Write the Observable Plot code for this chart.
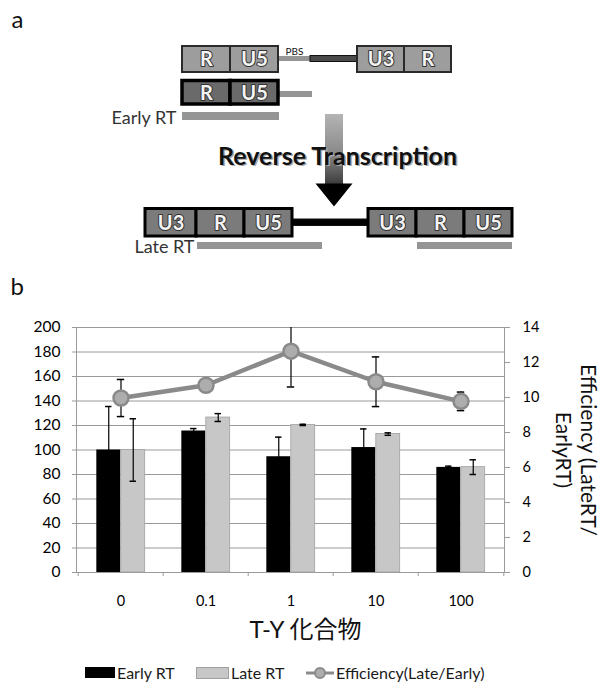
<!DOCTYPE html>
<html>
<head>
<meta charset="utf-8">
<script src="https://cdn.jsdelivr.net/npm/d3@7"></script>
<script src="https://cdn.jsdelivr.net/npm/@observablehq/plot@0.6"></script>
<style>
  html, body { margin: 0; padding: 0; background: #fff; }
  #root { position: relative; width: 604px; height: 683px; font-family: Lato, "Noto Sans CJK JP", sans-serif; overflow: hidden; }
  #panelA { position: absolute; left: 0; top: 0; }
  #panelB { position: absolute; left: 0; top: 270px; }
  .leg { position: absolute; font-size: 16px; line-height: 16px; color: #1a1a1a; white-space: nowrap; }
  .sw { position: absolute; }
</style>
</head>
<body>
<div id="root">
  <div id="panelA"></div>
  <div id="panelB"></div>
  <div id="legend"></div>
</div>
<script>
// ---------- chart data (panel b) ----------
const categories = ["0", "0.1", "1", "10", "100"];
const earlyRT    = [100, 115.5, 94.5, 102, 85.8];
const earlyErr   = [35.5, 2, 16, 15.2, 1];
const lateRT     = [100, 126.5, 120.5, 113, 86];
const lateErr    = [25.5, 3.2, 0.5, 1, 6];
const efficiency = [9.97, 10.7, 12.65, 10.9, 9.78];
const effErr     = [1.06, 0, 2.05, 1.42, 0.53];
const leftTicks  = [0, 20, 40, 60, 80, 100, 120, 140, 160, 180, 200];
const rightTicks = [0, 2, 4, 6, 8, 10, 12, 14];
const xTitle = ["T-Y 化合物"];
const rightTitle = ["Efficiency (LateRT/\nEarlyRT)"];
const panelBLabel = ["b"];
const legendLabels = ["Early RT", "Late RT", "Efficiency(Late/Early)"];

// ---------- schematic (panel a) ----------
const panelALabel = [{t: "a", x: 11, y: 20}];
const diagramBoxes = [
  {row: "top", x1: 182, x2: 230, label: "R"},
  {row: "top", x1: 230, x2: 278, label: "U5"},
  {row: "top", x1: 357, x2: 404, label: "U3"},
  {row: "top", x1: 404, x2: 451, label: "R"},
  {row: "mid", x1: 182, x2: 230, label: "R"},
  {row: "mid", x1: 230, x2: 278, label: "U5"},
  {row: "bot", x1: 145, x2: 196, label: "U3"},
  {row: "bot", x1: 196, x2: 244, label: "R"},
  {row: "bot", x1: 244, x2: 292, label: "U5"},
  {row: "bot", x1: 368, x2: 416, label: "U3"},
  {row: "bot", x1: 416, x2: 464, label: "R"},
  {row: "bot", x1: 464, x2: 512, label: "U5"}
];
const rowSpan = {top: [46, 72], mid: [80.5, 104], bot: [208.5, 236]};
const rowFill = {top: "#9d9d9d", mid: "#6a6a6a", bot: "#7b7b7b"};
const rowStroke = {top: "#2a2a2a", mid: "#000", bot: "#000"};
const rowStrokeW = {top: 2, mid: 3.5, bot: 3};
const grayStrands = [
  {x1: 278, x2: 310, y1: 56, y2: 61},
  {x1: 279, x2: 312, y1: 91, y2: 97},
  {x1: 182, x2: 279, y1: 112, y2: 120},
  {x1: 197, x2: 322, y1: 242, y2: 249},
  {x1: 417, x2: 512, y1: 242, y2: 249}
];
const darkStrands = [
  {x1: 310, x2: 357, y1: 55.5, y2: 61.5, fill: "#4a4a4a"},
  {x1: 292, x2: 368, y1: 219, y2: 225.5, fill: "#000"}
];
const arrowShaft = [{x1: 325, x2: 343, y1: 114, y2: 185}];
const arrowHead = [{x: 315, y: 183}, {x: 352, y: 183}, {x: 333.5, y: 206}];
const sideLabels = [
  {t: "Early RT", x: 176, y: 118},
  {t: "Late RT", x: 194, y: 247}
];
const pbsLabel = [{t: "PBS", x: 285, y: 51}];
const rtLabel = [{t: "Reverse Transcription", x: 337, y: 156}];

const FONT = 'Lato, "Noto Sans CJK JP", sans-serif';

const boxText = diagramBoxes.map(b => ({t: b.label, x: (b.x1 + b.x2) / 2, y: (rowSpan[b.row][0] + rowSpan[b.row][1]) / 2 + 0.5}));

const panelA = Plot.plot({
  width: 604, height: 265, margin: 0,
  x: {domain: [0, 604], range: [0, 604], axis: null},
  y: {domain: [0, 265], range: [0, 265], axis: null},
  style: {fontFamily: FONT, background: "transparent"},
  marks: [
    Plot.rect(grayStrands, {x1: "x1", x2: "x2", y1: "y1", y2: "y2", fill: "#959595"}),
    Plot.rect(darkStrands, {x1: "x1", x2: "x2", y1: "y1", y2: "y2", fill: d => d.fill, stroke: "#111", strokeWidth: 1}),
    Plot.rect(arrowShaft, {x1: "x1", x2: "x2", y1: "y1", y2: "y2", fill: "url(#shaftGrad)"}),
    Plot.line(arrowHead, {x: "x", y: "y", fill: "#000", stroke: "none"}),
    Plot.rect(diagramBoxes, {
      x1: "x1", x2: "x2",
      y1: d => rowSpan[d.row][0], y2: d => rowSpan[d.row][1],
      fill: d => rowFill[d.row], stroke: d => rowStroke[d.row], strokeWidth: d => rowStrokeW[d.row]
    }),
    Plot.text(boxText, {x: "x", y: "y", text: "t", fill: "#f4f4f4", stroke: "#333", strokeWidth: 2, fontWeight: "bold", fontSize: 20}),
    Plot.text(pbsLabel, {x: "x", y: "y", text: "t", textAnchor: "start", fontSize: 10, fill: "#111"}),
    Plot.text(sideLabels, {x: "x", y: "y", text: "t", textAnchor: "end", fontSize: 18, fill: "#333"}),
    Plot.text(rtLabel, {x: "x", y: "y", text: "t", dx: 1.5, dy: 1.5, fontSize: 25, fontWeight: "bold", fill: "#aaa"}),
    Plot.text(rtLabel, {x: "x", y: "y", text: "t", fontSize: 25, fontWeight: "bold", fill: "#111"}),
    Plot.text(panelALabel, {x: "x", y: "y", text: "t", textAnchor: "start", fontSize: 24, fill: "#111"})
  ]
});
{
  const defs = d3.select(panelA).insert("defs", ":first-child");
  const g = defs.append("linearGradient").attr("id", "shaftGrad").attr("x1", 0).attr("y1", 0).attr("x2", 0).attr("y2", 1);
  g.append("stop").attr("offset", "0%").attr("stop-color", "#b4b4b4");
  g.append("stop").attr("offset", "55%").attr("stop-color", "#8a8a8a");
  g.append("stop").attr("offset", "100%").attr("stop-color", "#3a3a3a");
}
document.getElementById("panelA").appendChild(panelA);

// ---------- panel b chart ----------
const k = 200 / 14; // right-axis (efficiency) to left-axis units
const rows = categories.map((c, i) => ({
  c, early: earlyRT[i], eErr: earlyErr[i], late: lateRT[i], lErr: lateErr[i],
  eff: efficiency[i] * k, effLo: (efficiency[i] - effErr[i]) * k, effHi: (efficiency[i] + effErr[i]) * k
}));
const W = 604, ML = 76, MR = 100;
const band = (W - ML - MR) / categories.length;
const barW = band * 0.286;
const capW = 7;
const capInset = (band - capW) / 2;

const chart = Plot.plot({
  width: W, height: 385, marginTop: 57, marginLeft: ML, marginRight: MR, marginBottom: 83,
  x: {domain: categories, padding: 0, axis: null},
  y: {domain: [0, 200], axis: null},
  style: {fontFamily: FONT, background: "transparent", color: "#000"},
  marks: [
    Plot.gridY(leftTicks, {stroke: "#9a9a9a", strokeOpacity: 1, insetLeft: -4}),
    Plot.frame({stroke: "#9a9a9a"}),
    Plot.ruleX(categories, {x: d => d, dx: -band / 2, y1: 0, y2: 0, insetBottom: -4, stroke: "#9a9a9a"}),
    Plot.ruleX(categories.slice(-1), {x: d => d, dx: band / 2, y1: 0, y2: 0, insetBottom: -4, stroke: "#9a9a9a"}),
    Plot.axisY({ticks: leftTicks, tickSize: 0, tickPadding: 16, fontSize: 15.5, label: null, fill: "#000"}),
    Plot.axisY({anchor: "right", ticks: rightTicks.map(v => v * k), tickFormat: d => Math.round(d / k), tickSize: 5, tickPadding: 13, fontSize: 14.5, label: null, stroke: "#9a9a9a", fill: "#000"}),
    Plot.axisX({tickSize: 0, tickPadding: 23, fontSize: 14.5, label: null, fill: "#000"}),
    // bars
    Plot.barY(rows, {x: "c", y: "early", fill: "#000", insetLeft: band / 2 - barW, insetRight: band / 2}),
    Plot.barY(rows, {x: "c", y: "late", fill: "#c7c7c7", stroke: "#a0a0a0", strokeWidth: 0.8, insetLeft: band / 2, insetRight: band / 2 - barW}),
    // bar error bars
    Plot.ruleX(rows, {x: "c", y1: d => d.early - d.eErr, y2: d => d.early + d.eErr, dx: -barW / 2, stroke: "#000", strokeWidth: 1.2}),
    Plot.tickY(rows, {x: "c", y: d => d.early + d.eErr, dx: -barW / 2, insetLeft: capInset, insetRight: capInset, stroke: "#000", strokeWidth: 1.5}),
    Plot.ruleX(rows, {x: "c", y1: d => d.late - d.lErr, y2: d => d.late + d.lErr, dx: barW / 2, stroke: "#000", strokeWidth: 1.2}),
    Plot.tickY(rows, {x: "c", y: d => d.late + d.lErr, dx: barW / 2, insetLeft: capInset, insetRight: capInset, stroke: "#000", strokeWidth: 1.5}),
    Plot.tickY(rows, {x: "c", y: d => d.late - d.lErr, dx: barW / 2, insetLeft: capInset, insetRight: capInset, stroke: "#000", strokeWidth: 1.5}),
    // efficiency error bars
    Plot.ruleX(rows, {x: "c", y1: "effLo", y2: "effHi", stroke: "#000", strokeWidth: 1.2, clip: true}),
    Plot.tickY(rows, {x: "c", y: "effHi", insetLeft: capInset - 0.5, insetRight: capInset - 0.5, stroke: "#000", strokeWidth: 1.5, clip: true}),
    Plot.tickY(rows, {x: "c", y: "effLo", insetLeft: capInset - 0.5, insetRight: capInset - 0.5, stroke: "#000", strokeWidth: 1.5, clip: true}),
    // efficiency line + markers
    Plot.line(rows, {x: "c", y: "eff", stroke: "#8a8a8a", strokeWidth: 4.5}),
    Plot.dot(rows, {x: "c", y: "eff", r: 7.5, fill: "#adadad", stroke: "#8a8a8a", strokeWidth: 2.5}),
    // titles
    Plot.text(panelBLabel, {frameAnchor: "top-left", text: d => d, textAnchor: "start", lineAnchor: "middle", dx: -66, dy: -40, fontSize: 24, fill: "#111"}),
    Plot.text(xTitle, {frameAnchor: "bottom", text: d => d, textAnchor: "middle", lineAnchor: "middle", dx: 15, dy: 58, fontSize: 24, fill: "#111"}),
    Plot.text(rightTitle, {frameAnchor: "right", text: d => d, textAnchor: "middle", lineAnchor: "middle", rotate: 90, dx: 72, fontSize: 21, lineHeight: 1.2, fill: "#111"})
  ]
});
document.getElementById("panelB").appendChild(chart);

// ---------- legend ----------
const leg = document.getElementById("legend");
leg.innerHTML = `
  <div class="sw" style="left:85px;top:667px;width:30px;height:11px;background:#000"></div>
  <div class="leg" style="left:117px;top:665px">${legendLabels[0]}</div>
  <div class="sw" style="left:196px;top:667px;width:31px;height:10px;background:#c7c7c7;border:0.5px solid #a0a0a0"></div>
  <div class="leg" style="left:231px;top:665px">${legendLabels[1]}</div>
  <svg class="sw" style="left:305px;top:665px" width="30" height="16">
    <line x1="1" x2="29" y1="8" y2="8" stroke="#8a8a8a" stroke-width="3"></line>
    <circle cx="15" cy="8" r="5" fill="#adadad" stroke="#8a8a8a" stroke-width="2"></circle>
  </svg>
  <div class="leg" style="left:336px;top:665px">${legendLabels[2]}</div>
`;
</script>
</body>
</html>
